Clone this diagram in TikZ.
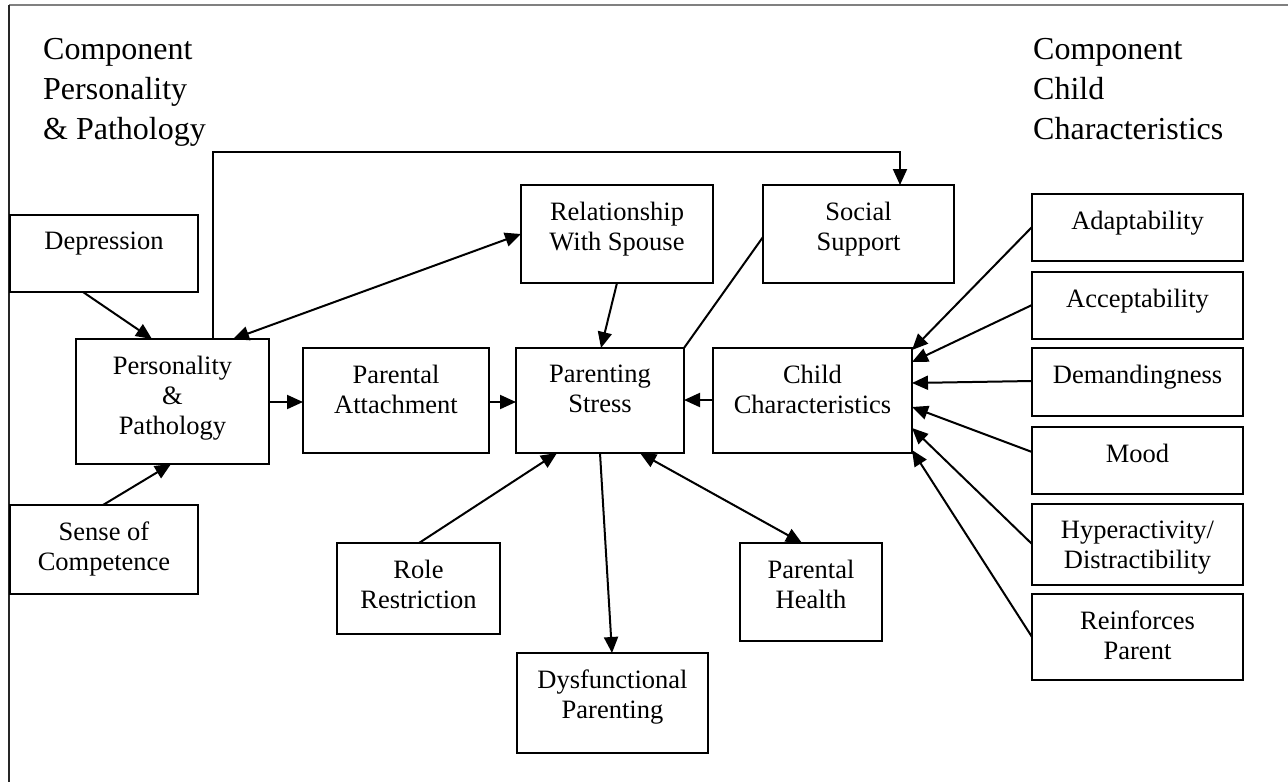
\documentclass[tikz,border=0pt]{standalone}
\usepackage{fontspec}
\setmainfont{Liberation Serif}
\usetikzlibrary{arrows.meta}
\tikzset{
  boxst/.style={draw, line width=2pt, inner sep=0pt, outer sep=0pt},
  lbl/.style={anchor=north, inner sep=0pt, align=center, font=\fontsize{26.5}{30}\selectfont},
  hdr/.style={anchor=base west, inner sep=0pt, font=\fontsize{32}{40}\selectfont},
  conn/.style={line width=2pt},
  arr/.style={conn, -{Triangle[length=16pt,width=14pt]}},
  darr/.style={conn, {Triangle[length=16pt,width=14pt]}-{Triangle[length=16pt,width=14pt]}},
}
\newcommand{\mybox}[6]{%
  \node[boxst, minimum width={(#4-#2)*1pt}, minimum height={(#5-#3)*1pt}] (#1) at ({(#2+#4)/2},{(#3+#5)/2}) {};
  \node[lbl] (#1-t) at ([yshift=-17pt]#1.north) {#6};
}
\begin{document}
\begin{tikzpicture}[x=1pt,y=-1pt]
\useasboundingbox (0,0) rectangle (1288,782);
% frame
\draw[line width=1.5pt, black!50] (9,5) -- (1288,5);
\draw[line width=1.5pt, black!85] (9,5) -- (9,782);
% headers
\node[hdr] (hl1) at (43,59) {Component};
\node[hdr] (hl2) at (43,99) {Personality};
\node[hdr] (hl3) at (43,139) {\& Pathology};
\node[hdr] (hr1) at (1033,59) {Component};
\node[hdr] (hr2) at (1033,99) {Child};
\node[hdr] (hr3) at (1033,139) {Characteristics};
% boxes
\mybox{dep}{10}{215}{198}{292}{Depression}
\mybox{pers}{76}{339}{269}{464}{Personality\\\&\\Pathology}
\mybox{soc}{10}{505}{198}{594}{Sense of\\Competence}
\mybox{att}{303}{348}{489}{453}{Parental\\Attachment}
\mybox{ps}{516}{348}{684}{453}{Parenting\\Stress}
\mybox{rel}{521}{185}{713}{283}{Relationship\\With Spouse}
\mybox{ss}{763}{185}{954}{283}{Social\\Support}
\mybox{cc}{713}{348}{912}{453}{Child\\Characteristics}
\mybox{role}{337}{543}{500}{634}{Role\\Restriction}
\mybox{dys}{517}{653}{708}{753}{Dysfunctional\\Parenting}
\mybox{ph}{740}{543}{882}{641}{Parental\\Health}
\mybox{ada}{1032}{194}{1243}{261}{Adaptability}
\mybox{acc}{1032}{272}{1243}{339}{Acceptability}
\mybox{dem}{1032}{348}{1243}{416}{Demandingness}
\mybox{mood}{1032}{427}{1243}{494}{Mood}
\mybox{hyp}{1032}{504}{1243}{585}{Hyperactivity/\\Distractibility}
\mybox{rein}{1032}{594}{1243}{680}{Reinforces\\Parent}
% connectors
\draw[arr] ([xshift=73pt]dep.south west) -- ([xshift=76pt]pers.north west);
\draw[arr] ([xshift=93pt]soc.north west) -- ([xshift=95pt]pers.south west);
\draw[arr] ([yshift=-63pt]pers.north east) -- ([yshift=-54pt]att.north west);
\draw[darr] ([xshift=157pt]pers.north west) -- ([yshift=-49pt]rel.north west);
\coordinate (po) at ([xshift=137pt]pers.north west);
\coordinate (si) at ([xshift=137pt]ss.north west);
\coordinate (route) at (0,152);
\draw[arr] (po) -- (po |- route) -- (si |- route) -- (si);
\draw[conn] ([yshift=-52pt]ss.north west) -- (ps.north east);
\draw[arr] ([xshift=96pt]rel.south west) -- ([xshift=85pt]ps.north west);
\draw[arr] ([yshift=-54pt]att.north east) -- ([yshift=-54pt]ps.north west);
\draw[arr] ([yshift=-52pt]cc.north west) -- ([yshift=-52pt]ps.north east);
\draw[arr] ([xshift=82pt]role.north west) -- ([xshift=41pt]ps.south west);
\draw[arr] ([xshift=84pt]ps.south west) -- ([xshift=95pt]dys.north west);
\draw[darr] ([xshift=124pt]ps.south west) -- ([xshift=62pt]ph.north west);
\draw[arr] ([yshift=-33pt]ada.north west) -- ([yshift=-2pt]cc.north east);
\draw[arr] ([yshift=-33pt]acc.north west) -- ([yshift=-14pt]cc.north east);
\draw[arr] ([yshift=-33pt]dem.north west) -- ([yshift=-35pt]cc.north east);
\draw[arr] ([yshift=-25pt]mood.north west) -- ([yshift=-59pt]cc.north east);
\draw[arr] ([yshift=-40pt]hyp.north west) -- ([yshift=-80pt]cc.north east);
\draw[arr] ([yshift=-43pt]rein.north west) -- ([yshift=-102pt]cc.north east);
\end{tikzpicture}
\end{document}
